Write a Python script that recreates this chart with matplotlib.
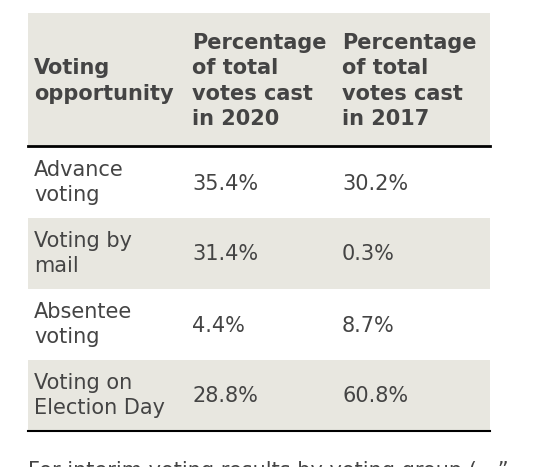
import matplotlib
matplotlib.use("Agg")
import matplotlib.pyplot as plt
from matplotlib.patches import Rectangle

header = ["Voting\nopportunity", "Percentage\nof total\nvotes cast\nin 2020", "Percentage\nof total\nvotes cast\nin 2017"]
categories = ["Advance\nvoting", "Voting by\nmail", "Absentee\nvoting", "Voting on\nElection Day"]
pct_2020 = ["35.4%", "31.4%", "4.4%", "28.8%"]
pct_2017 = ["30.2%", "0.3%", "8.7%", "60.8%"]

BG = "#e8e7e0"
TXT = "#444444"
fig = plt.figure(figsize=(5.33, 4.67), dpi=100)
ax = fig.add_axes([0, 0, 1, 1])
ax.set_xlim(0, 533); ax.set_ylim(467, 0); ax.axis("off")

x0, x1 = 28, 490
cols = [34, 192, 342]
ax.add_patch(Rectangle((x0, 13), x1 - x0, 132, color=BG, lw=0))
ax.plot([x0, x1], [145.5, 145.5], color="black", lw=2)
fs = 15
ax.text(cols[0], 81, header[0], ha="left", va="center", fontsize=fs, fontweight="bold", color=TXT, linespacing=1.35)
for c, h in zip(cols[1:], header[1:]):
    ax.text(c, 81, h, ha="left", va="center", fontsize=fs, fontweight="bold", color=TXT, linespacing=1.35)

rh = 71
for i, (cat, a, b) in enumerate(zip(categories, pct_2020, pct_2017)):
    top = 147 + i * rh
    if i % 2 == 1:
        ax.add_patch(Rectangle((x0, top), x1 - x0, rh, color=BG, lw=0))
    mid = top + rh / 2
    ax.text(cols[0], mid, cat, ha="left", va="center", fontsize=fs, color=TXT, linespacing=1.35)
    ax.text(cols[1], mid + 1, a, ha="left", va="center", fontsize=fs, color=TXT)
    ax.text(cols[2], mid + 1, b, ha="left", va="center", fontsize=fs, color=TXT)
ax.plot([x0, x1], [431, 431], color="black", lw=1.5)
ax.text(28, 461, "For interim voting results by voting group (\u2026\u201d", ha="left", va="top", fontsize=fs, color=TXT)
fig.savefig("out.png", dpi=100)
